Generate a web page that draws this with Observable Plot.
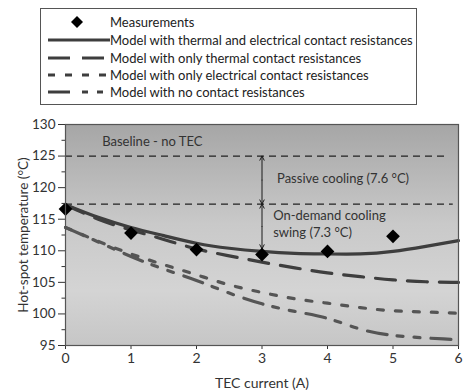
<!DOCTYPE html>
<html>
<head>
<meta charset="utf-8">
<script src="https://cdn.jsdelivr.net/npm/d3@7"></script>
<script src="https://cdn.jsdelivr.net/npm/@observablehq/plot@0.6"></script>
<style>
  html, body { margin: 0; padding: 0; background: #fff; }
  body { width: 464px; height: 390px; position: relative; overflow: hidden; font-family: Lato, sans-serif; }
  #legend { position: absolute; left: 40px; top: 8px; }
  #chart { position: absolute; left: 0; top: 110px; }
</style>
</head>
<body>
<div id="legend"></div>
<div id="chart"></div>
<script>
// ---- data ----
const currents = [0, 0.5, 1, 1.5, 2, 2.5, 3, 3.5, 4, 4.5, 5, 5.5, 6];
const thermalElectrical = [117.3, 115.3, 113.7, 112.4, 111.2, 110.4, 109.9, 109.6, 109.5, 109.5, 109.9, 110.7, 111.6];
const thermalOnly       = [117.3, 115.0, 113.3, 111.8, 110.3, 109.2, 108.2, 107.3, 106.5, 105.9, 105.4, 105.1, 105.0];
const electricalOnly    = [113.7, 111.5, 109.5, 107.8, 106.2, 104.6, 103.4, 102.4, 101.7, 101.0, 100.5, 100.3, 100.1];
const noContact         = [113.7, 111.4, 109.1, 107.1, 105.3, 103.3, 101.6, 100.4, 99.3, 97.6, 96.6, 96.2, 95.9];

const measCurrent = [0, 1, 2, 3, 4, 5];
const measTemp    = [116.6, 112.8, 110.2, 109.4, 109.9, 112.3];

const seriesNames = [
  "Measurements",
  "Model with thermal and electrical contact resistances",
  "Model with only thermal contact resistances",
  "Model with only electrical contact resistances",
  "Model with no contact resistances"
];

const xTicks = [0, 1, 2, 3, 4, 5, 6];
const yTicks = [95, 100, 105, 110, 115, 120, 125, 130];
const yMinorTicks = [97.5, 102.5, 107.5, 112.5, 117.5, 122.5, 127.5];

const baselineTemp = 125;
const passiveCooling = 7.6;
const swing = 7.3;
const arrowCurrent = 3;

const refLineY  = [baselineTemp, baselineTemp - passiveCooling];
const refLineX2 = [5.85, 5.92];

const annotText = ["Baseline - no TEC", "Passive cooling (7.6 °C)", "On-demand cooling", "swing (7.3 °C)"];
const annotX = [0.56, 3.23, 3.17, 3.17];
const annotY = [127.3, 121.4, 115.6, 112.85];

// ---- styles ----
const lineStyles = [
  {dash: null, stroke: "#3e3e3e"},
  {dash: "20,12", stroke: "#3e3e3e"},
  {dash: "6,12", stroke: "#555"},
  {dash: "20,10,6,11,6,11", stroke: "#555"}
];

// ---- build tables ----
const modelSeries = [thermalElectrical, thermalOnly, electricalOnly, noContact];
const modelTables = modelSeries.map(vals => currents.map((c, i) => ({x: c, y: vals[i]})));
const meas = measCurrent.map((c, i) => ({x: c, y: measTemp[i]}));
const refs = refLineY.map((y, i) => ({y, x1: 0, x2: refLineX2[i]}));
const segTop = baselineTemp - passiveCooling;
const segBottom = baselineTemp - passiveCooling - swing + 0.2;
const segments = [[baselineTemp, segTop], [segTop, segBottom]];
// double-headed arrows: from each segment's midpoint out to both ends
const arrows = segments.flatMap(([a, b]) => {
  const m = (a + b) / 2;
  return [{x: arrowCurrent, y1: m, y2: a}, {x: arrowCurrent, y1: m, y2: b}];
});
const annots = annotText.map((t, i) => ({x: annotX[i], y: annotY[i], text: t}));

const marks = [
  Plot.frame({fill: "#c8c8c8", stroke: null}),
  Plot.ruleY(refs, {y: "y", x1: "x1", x2: "x2", stroke: "#222", strokeWidth: 1.3, strokeDasharray: "7,5"}),
  Plot.arrow(arrows, {x1: "x", x2: "x", y1: "y1", y2: "y2", stroke: "#1a1a1a", strokeWidth: 1, headLength: 7, headAngle: 55, insetEnd: 0}),
  ...modelTables.map((tbl, k) => Plot.line(tbl, {
    x: "x", y: "y", curve: "natural",
    stroke: lineStyles[k].stroke, strokeWidth: 3.2,
    strokeDasharray: lineStyles[k].dash || undefined
  })),
  Plot.dot(meas, {x: "x", y: "y", symbol: "diamond2", r: 6.2, fill: "#000", stroke: null}),
  Plot.text(annots, {x: "x", y: "y", text: "text", textAnchor: "start", fontSize: 13, fill: "#333"}),
  Plot.axisX({ticks: xTicks, tickFormat: d => String(d), tickSize: 4, tickPadding: 4, fontSize: 14, label: "TEC current (A)", labelAnchor: "center", labelOffset: 42, labelArrow: "none"}),
  Plot.axisY({ticks: yTicks, tickFormat: d => String(d), tickSize: 7, tickPadding: 3, fontSize: 13.5, label: "Hot-spot temperature (°C)", labelAnchor: "center", labelOffset: 47, labelArrow: "none"}),
  Plot.axisY({ticks: yMinorTicks, tickSize: 3.5, text: null, label: null}),
  Plot.frame({stroke: "#555", strokeWidth: 1.2})
];

const svg = Plot.plot({
  width: 464,
  height: 280,
  marginTop: 14,
  marginBottom: 45,
  marginLeft: 65,
  marginRight: 6,
  style: {fontFamily: "Lato, sans-serif", fontSize: "13px", color: "#333", background: "transparent", overflow: "visible"},
  x: {domain: [0, 6]},
  y: {domain: [95, 130]},
  marks
});

// gradient background for the plotting area
const ns = "http://www.w3.org/2000/svg";
const defs = document.createElementNS(ns, "defs");
const grad = document.createElementNS(ns, "linearGradient");
grad.setAttribute("id", "bgGrad");
grad.setAttribute("x1", "0"); grad.setAttribute("y1", "0");
grad.setAttribute("x2", "0"); grad.setAttribute("y2", "1");
[[0, "#a6a6a6"], [0.45, "#c9c9c9"], [0.75, "#d4d4d4"], [1, "#c6c6c6"]].forEach(([o, c]) => {
  const s = document.createElementNS(ns, "stop");
  s.setAttribute("offset", o);
  s.setAttribute("stop-color", c);
  grad.appendChild(s);
});
defs.appendChild(grad);
svg.insertBefore(defs, svg.firstChild);
const frames = svg.querySelectorAll('[aria-label="frame"]');
if (frames.length) {
  const f = frames[0];
  const targets = f.tagName.toLowerCase() === "rect" ? [f] : Array.from(f.querySelectorAll("rect"));
  targets.forEach(r => r.setAttribute("fill", "url(#bgGrad)"));
  f.setAttribute("fill", "url(#bgGrad)");
}
document.getElementById("chart").appendChild(svg);

// ---- legend ----
const L = document.createElementNS(ns, "svg");
L.setAttribute("width", 377);
L.setAttribute("height", 97);
L.style.fontFamily = "Lato, sans-serif";
const box = document.createElementNS(ns, "rect");
box.setAttribute("x", 0.5); box.setAttribute("y", 0.5);
box.setAttribute("width", 376); box.setAttribute("height", 96);
box.setAttribute("fill", "#fff"); box.setAttribute("stroke", "#555"); box.setAttribute("stroke-width", 1);
L.appendChild(box);
const rowY = [14, 32, 50, 67, 84];
seriesNames.forEach((name, i) => {
  const y = rowY[i];
  if (i === 0) {
    const d = document.createElementNS(ns, "path");
    const cx = 37, h = 6;
    d.setAttribute("d", `M${cx},${y - h}L${cx + h},${y}L${cx},${y + h}L${cx - h},${y}Z`);
    d.setAttribute("fill", "#000");
    L.appendChild(d);
  } else {
    const ln = document.createElementNS(ns, "line");
    ln.setAttribute("x1", 8); ln.setAttribute("x2", 70);
    ln.setAttribute("y1", y); ln.setAttribute("y2", y);
    ln.setAttribute("stroke", "#3e3e3e");
    ln.setAttribute("stroke-width", 3);
    if (i === 2) ln.setAttribute("stroke-dasharray", "22,12");
    if (i === 3) ln.setAttribute("stroke-dasharray", "7,10");
    if (i === 4) ln.setAttribute("stroke-dasharray", "22,12,6,9,6,20");
    L.appendChild(ln);
  }
  const t = document.createElementNS(ns, "text");
  t.setAttribute("x", 70);
  t.setAttribute("y", y);
  t.setAttribute("dy", "0.35em");
  t.setAttribute("font-size", 13);
  t.setAttribute("fill", "#222");
  t.textContent = name;
  L.appendChild(t);
});
document.getElementById("legend").appendChild(L);
</script>
</body>
</html>
